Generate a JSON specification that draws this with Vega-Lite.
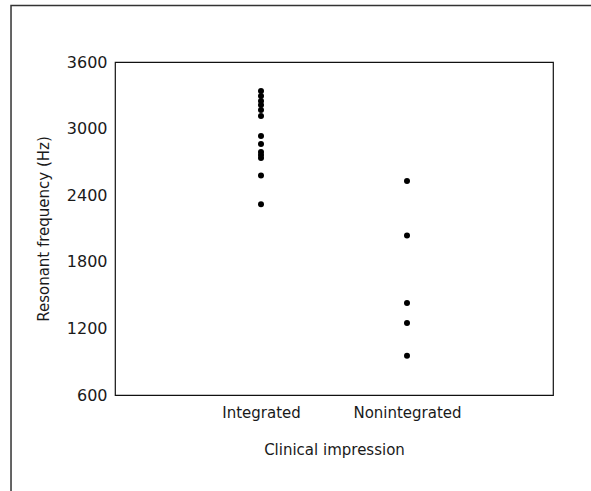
{
  "$schema": "https://vega.github.io/schema/vega-lite/v6.json",
  "width": 438,
  "height": 333,
  "autosize": {"type": "none"},
  "padding": {"left": 115, "top": 62, "right": 38, "bottom": 96},
  "background": "white",
  "config": {
    "view": {"stroke": "#111", "strokeWidth": 1.2},
    "font": "DejaVu Sans",
    "axis": {
      "labelFont": "DejaVu Sans",
      "titleFont": "DejaVu Sans",
      "labelFontSize": 15,
      "titleFontSize": 15,
      "labelColor": "#1a1a1a",
      "titleColor": "#1a1a1a",
      "titleFontWeight": "normal",
      "grid": false,
      "ticks": false,
      "domain": false
    }
  },
  "data": {
    "values": [
      {"impression": "Integrated", "frequency": 3339},
      {"impression": "Integrated", "frequency": 3294},
      {"impression": "Integrated", "frequency": 3249},
      {"impression": "Integrated", "frequency": 3213},
      {"impression": "Integrated", "frequency": 3168},
      {"impression": "Integrated", "frequency": 3114},
      {"impression": "Integrated", "frequency": 2933},
      {"impression": "Integrated", "frequency": 2861},
      {"impression": "Integrated", "frequency": 2789},
      {"impression": "Integrated", "frequency": 2762},
      {"impression": "Integrated", "frequency": 2735},
      {"impression": "Integrated", "frequency": 2578},
      {"impression": "Integrated", "frequency": 2318},
      {"impression": "Nonintegrated", "frequency": 2528},
      {"impression": "Nonintegrated", "frequency": 2037},
      {"impression": "Nonintegrated", "frequency": 1429},
      {"impression": "Nonintegrated", "frequency": 1249},
      {"impression": "Nonintegrated", "frequency": 954}
    ]
  },
  "layer": [
    {
      "data": {"values": [{}]},
      "mark": {"type": "rect", "fill": null, "fillOpacity": 0, "stroke": "#333", "strokeWidth": 1.5},
      "encoding": {
        "x": {"datum": -0.2374, "type": "quantitative", "scale": {"domain": [0, 1], "nice": false, "zero": false}, "axis": null},
        "x2": {"datum": 2},
        "y": {"datum": 1.1697, "type": "quantitative", "scale": {"domain": [0, 1], "nice": false, "zero": false}, "axis": null},
        "y2": {"datum": -1}
      }
    },
    {
      "mark": {"type": "circle", "color": "black", "opacity": 1, "size": 36},
      "encoding": {
        "x": {
          "field": "impression",
          "type": "nominal",
          "scale": {"type": "point", "padding": 1},
          "axis": {"title": "Clinical impression", "labelAngle": 0, "labelPadding": 10, "titlePadding": 22}
        },
        "y": {
          "field": "frequency",
          "type": "quantitative",
          "scale": {"domain": [600, 3600], "nice": false, "zero": false},
          "axis": {"title": "Resonant frequency (Hz)", "format": "d", "values": [600, 1200, 1800, 2400, 3000, 3600], "labelPadding": 8, "labelFontSize": 16, "titlePadding": 15}
        }
      }
    }
  ],
  "resolve": {"scale": {"x": "independent", "y": "independent"}}
}
